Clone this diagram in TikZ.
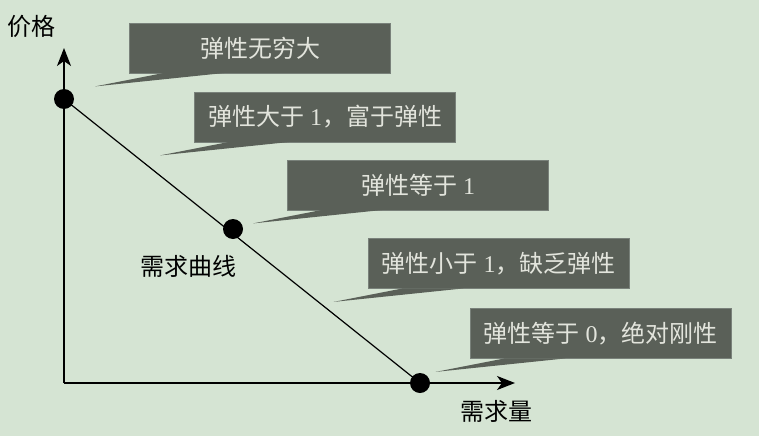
\documentclass[tikz,border=0pt]{standalone}
\usepackage{fontspec}
\setmainfont{Liberation Serif}
\newfontfamily\cjk{Noto Sans CJK SC}
\usetikzlibrary{arrows.meta,calc}
\definecolor{bgc}{HTML}{D5E4D3}
\definecolor{boxc}{HTML}{5A6058}
\definecolor{boxe}{HTML}{79817A}
\definecolor{boxt}{HTML}{E2E4DC}
\tikzset{
  callout/.style={rectangle, fill=boxc, draw=boxe, line width=0.8pt, minimum width=261pt, minimum height=50pt, inner sep=0pt, text=boxt, font=\fontsize{24}{24}\selectfont},
  plain/.style={font=\fontsize{24}{24}\selectfont, text=black, inner sep=0pt},
  dotc/.style={circle, fill=black, minimum size=20pt, inner sep=0pt},
  axis/.style={line width=1.4pt, -{Stealth[length=18pt,width=14pt,inset=5pt]}},
  ptr/.style={fill=boxc}
}
\begin{document}
\begin{tikzpicture}[x=1pt,y=-1pt]
\useasboundingbox[fill=bgc] (0,0) rectangle (759,436);
% axes
\coordinate (O) at (64,383);
\coordinate (ytip) at (64,48);
\coordinate (xtip) at (515,383);
\draw[axis] (O) -- (ytip);
\draw[axis] (O) -- (xtip);
% curve
\node[dotc] (d1) at (64,99) {};
\node[dotc] (d2) at (233,229) {};
\node[dotc] (d3) at (420,383) {};
\draw[line width=1.2pt] (d1.center) -- (d3.center);
% labels
\node[plain] (py) at (31,26) {\cjk 价格};
\node[plain] (qx) at (496,411) {\cjk 需求量};
\node[plain] (dc) at (188,266) {\cjk 需求曲线};
% callouts
\node[callout] (b1) at (260,48) {\cjk 弹性无穷大};
\node[callout] (b2) at (325,117) {{\cjk 弹性大于} 1{\cjk ，富于弹性}};
\node[callout] (b3) at (418,185) {{\cjk 弹性等于} 1};
\node[callout] (b4) at (498.5,263.5) {{\cjk 弹性小于} 1{\cjk ，缺乏弹性}};
\node[callout] (b5) at (600.5,333.5) {{\cjk 弹性等于} 0{\cjk ，绝对刚性}};
\foreach \b in {b1,b2,b3,b4,b5}{
  \coordinate (\b t) at ($(\b.south west)+(-34,13)$);
  \fill[boxc] ($(\b.south west)+(35,-0.5)$) -- (\b t) -- ($(\b.south west)+(96,-0.5)$) -- cycle;
}
\end{tikzpicture}
\end{document}
